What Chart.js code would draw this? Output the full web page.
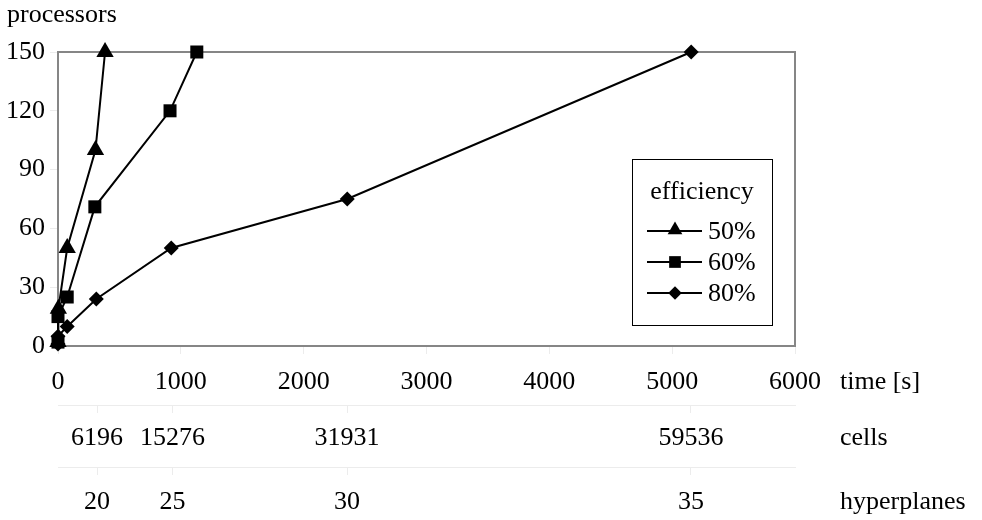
<!DOCTYPE html>
<html>
<head>
<meta charset="utf-8">
<script src="https://cdn.jsdelivr.net/npm/chart.js@4.4.1/dist/chart.umd.min.js"></script>
<style>
html, body { margin: 0; padding: 0; background: #fff; }
#wrap { width: 982px; height: 520px; position: relative; }
</style>
</head>
<body>
<div id="wrap"><canvas id="myChart"></canvas></div>
<script>
// data
var times50 = [0, 3, 75, 305, 383];
var procs50 = [2, 19, 50, 100, 150];
var times60 = [0, 0, 75, 300, 912, 1130];
var procs60 = [2, 15, 25, 71, 120, 150];
var times80 = [0, 0, 75, 312, 922, 2355, 5155];
var procs80 = [1, 5, 10, 24, 50, 75, 150];

var seriesNames = ["50%", "60%", "80%"];
var seriesStyles = ["triangle", "rect", "rectRot"];
var seriesRadius = [10, 9.2, 7.5];

var labelTimes = [318, 932, 2353, 5153];
var cellLabels = ["6196", "15276", "31931", "59536"];
var hyperLabels = ["20", "25", "30", "35"];
var axisNames = ["time [s]", "cells", "hyperplanes"];
var yTitle = "processors";
var legendTitle = "efficiency";

var FONT_FAMILY = "'Liberation Serif', 'Times New Roman', serif";
var FONT_SIZE = 26;
var FAINT = '#ececec';

Chart.defaults.font.family = FONT_FAMILY;
Chart.defaults.font.size = FONT_SIZE;
Chart.defaults.color = '#000';

function pts(xs, ys) {
	var out = [];
	for (var i = 0; i < xs.length; i++) out.push({ x: xs[i], y: ys[i] });
	return out;
}

function makeSet(i, xs, ys) {
	return {
		label : seriesNames[i],
		data : pts(xs, ys),
		borderColor : '#000',
		backgroundColor : '#000',
		pointBackgroundColor : '#000',
		pointBorderColor : '#000',
		pointBorderWidth : 0,
		borderWidth : 2,
		pointStyle : seriesStyles[i],
		pointRadius : seriesRadius[i],
		pointHoverRadius : seriesRadius[i],
		tension : 0,
		clip : false
	};
}

// bottom axes: label padding and height
var bottomAxes = [
	{ id : 'x', pad : 13, h : 59 },
	{ id : 'xCells', pad : 10, h : 62 },
	{ id : 'xHyper', pad : 12, h : 53 }
];

var extras = {
	id : 'extras',
	beforeDatasetsDraw : function(chart) {
		var a = chart.chartArea, ctx = chart.ctx;
		ctx.save();
		ctx.strokeStyle = '#868686';
		ctx.lineWidth = 2;
		ctx.strokeRect(a.left, a.top, a.right - a.left, a.bottom - a.top);
		ctx.restore();
	},
	afterDraw : function(chart) {
		var ctx = chart.ctx, a = chart.chartArea;
		ctx.save();
		ctx.font = FONT_SIZE + 'px ' + FONT_FAMILY;
		ctx.fillStyle = '#000';
		ctx.textBaseline = 'middle';
		ctx.textAlign = 'left';
		bottomAxes.forEach(function(b, i) {
			var s = chart.scales[b.id];
			var y = s.top + 8 + b.pad + FONT_SIZE * 0.6;
			ctx.fillText(axisNames[i], a.right + 45, y);
		});

		// legend box
		var lx = a.right - 163, ly = a.top + 107, lw = 140, lh = 166;
		ctx.strokeStyle = '#000';
		ctx.lineWidth = 1;
		ctx.strokeRect(lx + 0.5, ly + 0.5, lw, lh);
		ctx.textAlign = 'center';
		ctx.fillText(legendTitle, lx + lw / 2, ly + 33);
		ctx.textAlign = 'left';
		for (var i = 0; i < seriesNames.length; i++) {
			var yy = ly + 72 + i * 31;
			ctx.strokeStyle = '#000';
			ctx.lineWidth = 2;
			ctx.beginPath();
			ctx.moveTo(lx + 15, yy);
			ctx.lineTo(lx + 70, yy);
			ctx.stroke();
			ctx.fillStyle = '#000';
			Chart.helpers.drawPoint(ctx, {
				pointStyle : seriesStyles[i],
				radius : i == 0 ? 8.5 : seriesRadius[i] * 0.9,
				rotation : 0,
				borderWidth : 0
			}, lx + 43, i == 0 ? yy - 1 : yy);
			ctx.fillText(seriesNames[i], lx + 76, yy + 1);
		}
		ctx.restore();
	}
};

function bottomScale(b, weight) {
	return {
		type : 'linear',
		position : 'bottom',
		weight : weight,
		min : 0,
		max : 6000,
		grid : { drawOnChartArea : false, drawTicks : true, tickLength : 8, color : FAINT },
		border : { display : true, color : weight == 0 ? '#868686' : FAINT, width : weight == 0 ? 2 : 1 },
		ticks : { padding : b.pad, autoSkip : false, maxRotation : 0, color : '#000' },
		afterFit : function(scale) { scale.height = b.h; }
	};
}

var xScale = bottomScale(bottomAxes[0], 0);
xScale.ticks.stepSize = 1000;
xScale.ticks.callback = function(v) { return String(v); };

var cellScale = bottomScale(bottomAxes[1], 1);
cellScale.afterBuildTicks = function(scale) {
	scale.ticks = labelTimes.map(function(v) { return { value : v }; });
};
cellScale.ticks.callback = function(v, i) { return cellLabels[i]; };

var hyperScale = bottomScale(bottomAxes[2], 2);
hyperScale.afterBuildTicks = function(scale) {
	scale.ticks = labelTimes.map(function(v) { return { value : v }; });
};
hyperScale.ticks.callback = function(v, i) { return hyperLabels[i]; };

var ctxD = document.getElementById("myChart").getContext('2d');
var myLineChart = new Chart(ctxD, {
	type : 'line',
	data : {
		datasets : [
			makeSet(0, times50, procs50),
			makeSet(1, times60, procs60),
			makeSet(2, times80, procs80)
		]
	},
	options : {
		responsive : true,
		maintainAspectRatio : false,
		animation : false,
		layout : { padding : { left : 7, right : 187, top : 0, bottom : 0 } },
		plugins : {
			legend : { display : false },
			tooltip : { enabled : false },
			title : {
				display : true,
				text : yTitle,
				align : 'start',
				color : '#000',
				font : { size : FONT_SIZE, weight : 'normal', family : FONT_FAMILY, lineHeight : 1.2 },
				padding : { top : 0, bottom : 20.8 }
			}
		},
		scales : {
			x : xScale,
			xCells : cellScale,
			xHyper : hyperScale,
			y : {
				type : 'linear',
				min : 0,
				max : 150,
				ticks : { stepSize : 30, padding : 5, color : '#000' },
				grid : { drawOnChartArea : false, drawTicks : true, tickLength : 8, color : FAINT },
				border : { display : true, color : '#868686', width : 2 },
				afterFit : function(scale) { scale.width = 51; }
			}
		}
	},
	plugins : [ extras ]
});
</script>
</body>
</html>
